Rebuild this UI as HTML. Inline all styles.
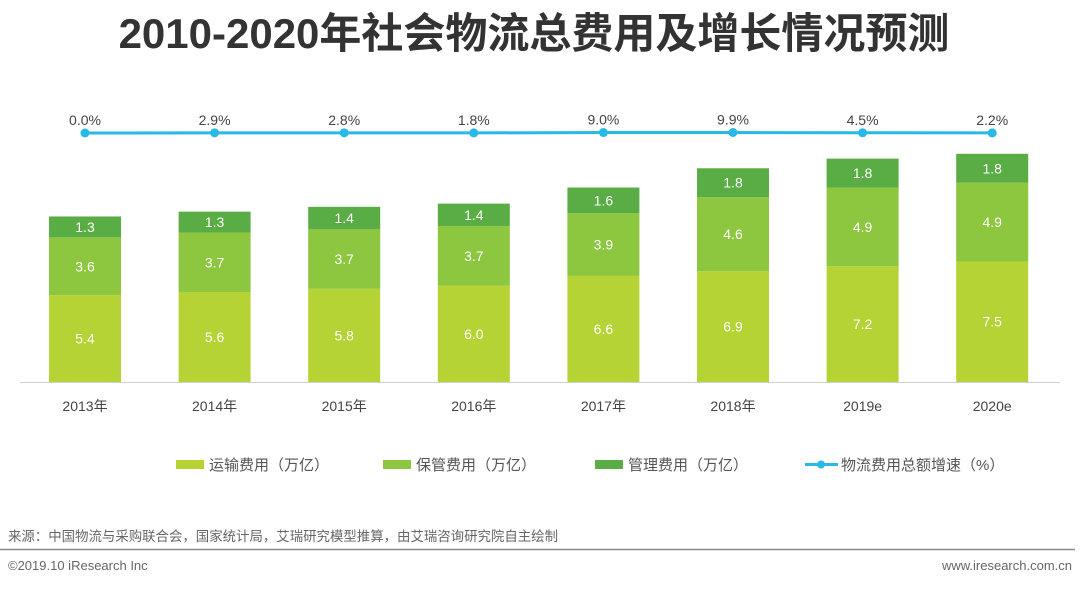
<!DOCTYPE html>
<html><head><meta charset="utf-8"><style>
body{margin:0;background:#fff;width:1080px;height:585px;overflow:hidden;font-family:"Liberation Sans","Noto Sans CJK SC",sans-serif}
</style></head><body>
<svg width="1080" height="585" xmlns="http://www.w3.org/2000/svg" font-family="'Liberation Sans','Noto Sans CJK SC',sans-serif">
<text x="534" y="48" text-anchor="middle" font-size="42" font-weight="bold" fill="#333">2010-2020年社会物流总费用及增长情况预测</text>
<line x1="20" y1="382.5" x2="1060" y2="382.5" stroke="#d0d0d0" stroke-width="1"/>
<g id="bars"></g>
<g id="line"></g>
<g id="xlabels"></g>
<g font-size="15" fill="#555">
<rect x="176" y="460" width="28" height="9" fill="#b5d334"/>
<text x="209" y="470">运输费用（万亿）</text>
<rect x="383" y="460" width="28" height="9" fill="#8dc63f"/>
<text x="416" y="470">保管费用（万亿）</text>
<rect x="595" y="460" width="28" height="9" fill="#5aac44"/>
<text x="628" y="470">管理费用（万亿）</text>
<line x1="805" y1="464.5" x2="838" y2="464.5" stroke="#29b9e6" stroke-width="3"/>
<circle cx="821" cy="464.5" r="4" fill="#29b9e6"/>
<text x="841" y="470">物流费用总额增速（%）</text>
</g>
<text x="8" y="541" font-size="13.5" fill="#666" textLength="550" lengthAdjust="spacingAndGlyphs">来源：中国物流与采购联合会，国家统计局，艾瑞研究模型推算，由艾瑞咨询研究院自主绘制</text>
<line x1="0" y1="549.5" x2="1075" y2="549.5" stroke="#888" stroke-width="1.5"/>
<text x="8" y="570" font-size="13" fill="#666">©2019.10 iResearch Inc</text>
<text x="1072" y="570" font-size="13" fill="#666" text-anchor="end">www.iresearch.com.cn</text>
</svg>
<script>
const categories=["2013年","2014年","2015年","2016年","2017年","2018年","2019e","2020e"];
const transport=[5.4,5.6,5.8,6.0,6.6,6.9,7.2,7.5];
const storage=[3.6,3.7,3.7,3.7,3.9,4.6,4.9,4.9];
const management=[1.3,1.3,1.4,1.4,1.6,1.8,1.8,1.8];
const growth=[0.0,2.9,2.8,1.8,9.0,9.9,4.5,2.2];
const growthLabels=["0.0%","2.9%","2.8%","1.8%","9.0%","9.9%","4.5%","2.2%"];
const NS="http://www.w3.org/2000/svg";
const x=i=>85+i*129.6;
const y=v=>382-v*16.07;
const yl=v=>133-v*0.05;
const bw=72;
const bars=document.getElementById('bars'),lineG=document.getElementById('line'),xl=document.getElementById('xlabels');
function mk(tag,attrs,parent){const e=document.createElementNS(NS,tag);for(const k in attrs)e.setAttribute(k,attrs[k]);parent.appendChild(e);return e;}
const series=[[transport,"#b5d334","transport"],[storage,"#8dc63f","storage"],[management,"#5aac44","management"]];
categories.forEach((c,i)=>{
  let base=0;
  series.forEach(([arr,col,nm])=>{
    const v=arr[i];
    const r=mk('rect',{x:x(i)-bw/2,y:y(base+v),width:bw,height:y(base)-y(base+v),fill:col},bars);
    
    
    const t=mk('text',{x:x(i),y:(y(base)+y(base+v))/2+5,'text-anchor':'middle','font-size':14,fill:'#fff'},bars);
    t.textContent=v.toFixed(1);
    
    
    base+=v;
  });
  const xt=mk('text',{x:x(i),y:411,'text-anchor':'middle','font-size':14,fill:'#444'},xl);
  xt.textContent=c;
  
  
});
const pts=growth.map((g,i)=>x(i)+','+yl(g)).join(' ');
const pl=mk('polyline',{points:pts,fill:'none',stroke:'#29b9e6','stroke-width':3},lineG);


growth.forEach((g,i)=>{
  const c=mk('circle',{cx:x(i),cy:yl(g),r:4.5,fill:'#29b9e6'},lineG);
  
  
  const t=mk('text',{x:x(i),y:yl(g)-8,'text-anchor':'middle','font-size':14,fill:'#444'},lineG);
  t.textContent=growthLabels[i];
  
  
});
</script>
</body></html>
